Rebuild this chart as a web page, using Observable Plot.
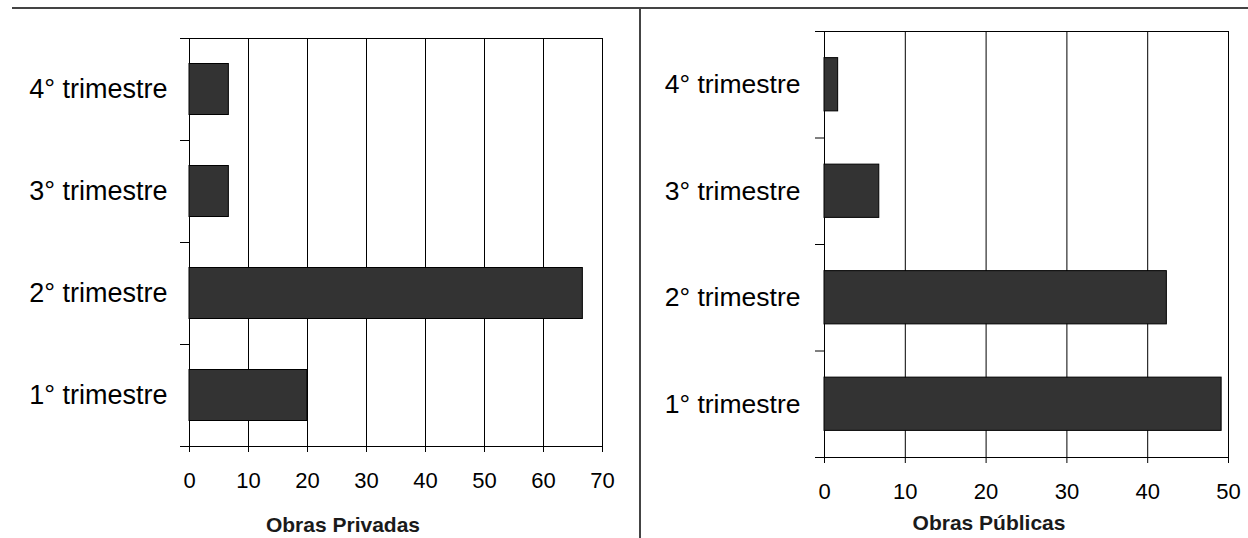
<!DOCTYPE html>
<html>
<head>
<meta charset="utf-8">
<script src="https://cdn.jsdelivr.net/npm/d3@7"></script>
<script src="https://cdn.jsdelivr.net/npm/@observablehq/plot@0.6"></script>
<style>
  html, body { margin: 0; padding: 0; background: #fff; }
  #wrap { position: relative; width: 1248px; height: 538px; overflow: hidden; background: #fff; font-family: "Liberation Sans", Arial, sans-serif; }
  .panel { position: absolute; top: 0; }
  .hline { position: absolute; left: 12px; top: 7px; width: 1236px; height: 2px; background: #444; }
  .vline { position: absolute; left: 639px; top: 7px; width: 2px; height: 531px; background: #444; }
  .title { position: absolute; font-weight: bold; font-size: 21px; color: #1a1a1a; transform: translate(-50%, -50%); white-space: nowrap; }
</style>
</head>
<body>
<div id="wrap">
  <div class="hline"></div>
  <div class="vline"></div>
</div>
<script>
// ---- data ----
const categories = ["1° trimestre", "2° trimestre", "3° trimestre", "4° trimestre"];
const obrasPrivadas = [20, 66.67, 6.67, 6.67];
const obrasPublicas = [49.15, 42.37, 6.78, 1.69];
const privadasTicks = [0, 10, 20, 30, 40, 50, 60, 70];
const publicasTicks = [0, 10, 20, 30, 40, 50];
const titles = ["Obras Privadas", "Obras Públicas"];

function panel(values, ticks, cfg) {
  const data = categories.map((c, i) => ({cat: c, rank: i, value: values[i]}));
  const boundaries = d3.range(categories.length + 1);
  return Plot.plot({
    width: cfg.width,
    height: 538,
    marginLeft: cfg.ml,
    marginRight: cfg.mr,
    marginTop: cfg.mt,
    marginBottom: cfg.mb,
    style: {fontFamily: "'Liberation Sans', Arial, sans-serif", background: "transparent", color: "#000", overflow: "visible"},
    x: {type: "linear", domain: [0, ticks[ticks.length - 1]], label: null},
    y: {type: "linear", domain: [0, categories.length], label: null},
    marks: [
      Plot.ruleX(ticks, {x: d => d, stroke: "#000", strokeWidth: 1}),
      Plot.ruleY([categories.length], {y: d => d, stroke: "#000", strokeWidth: 1}),
      Plot.rectX(data, {x1: 0, x2: "value", y1: d => d.rank + 0.25, y2: d => d.rank + 0.75, fill: "#333333", stroke: "#000", strokeWidth: 1}),
      Plot.ruleY([0], {y: d => d, stroke: "#000", strokeWidth: 1}),
      Plot.axisY(boundaries, {tickSize: 9, tickFormat: () => "", stroke: "#000"}),
      Plot.axisX(ticks, {tickSize: 6, tickPadding: cfg.tickPad, fontSize: 22, stroke: "#000", fill: "#000"}),
      Plot.text(data, {y: d => d.rank + 0.5, text: "cat", frameAnchor: "left", textAnchor: "end", dx: cfg.labelDx, fontSize: cfg.labelSize, fill: "#000"})
    ]
  });
}

const wrap = document.getElementById("wrap");

const left = panel(obrasPrivadas, privadasTicks, {width: 640, ml: 189, mr: 38, mt: 38, mb: 92, tickPad: 20, labelDx: -22, labelSize: 27});
left.classList.add("panel");
left.style.left = "0px";
wrap.appendChild(left);

const right = panel(obrasPublicas, publicasTicks, {width: 608, ml: 184, mr: 20, mt: 31, mb: 81, tickPad: 20, labelDx: -24, labelSize: 26.5});
right.classList.add("panel");
right.style.left = "640px";
wrap.appendChild(right);

const t1 = document.createElement("div");
t1.className = "title"; t1.textContent = titles[0];
t1.style.left = "343px"; t1.style.top = "525px";
wrap.appendChild(t1);
const t2 = document.createElement("div");
t2.className = "title"; t2.textContent = titles[1];
t2.style.left = "989px"; t2.style.top = "523px";
wrap.appendChild(t2);
</script>
</body>
</html>
